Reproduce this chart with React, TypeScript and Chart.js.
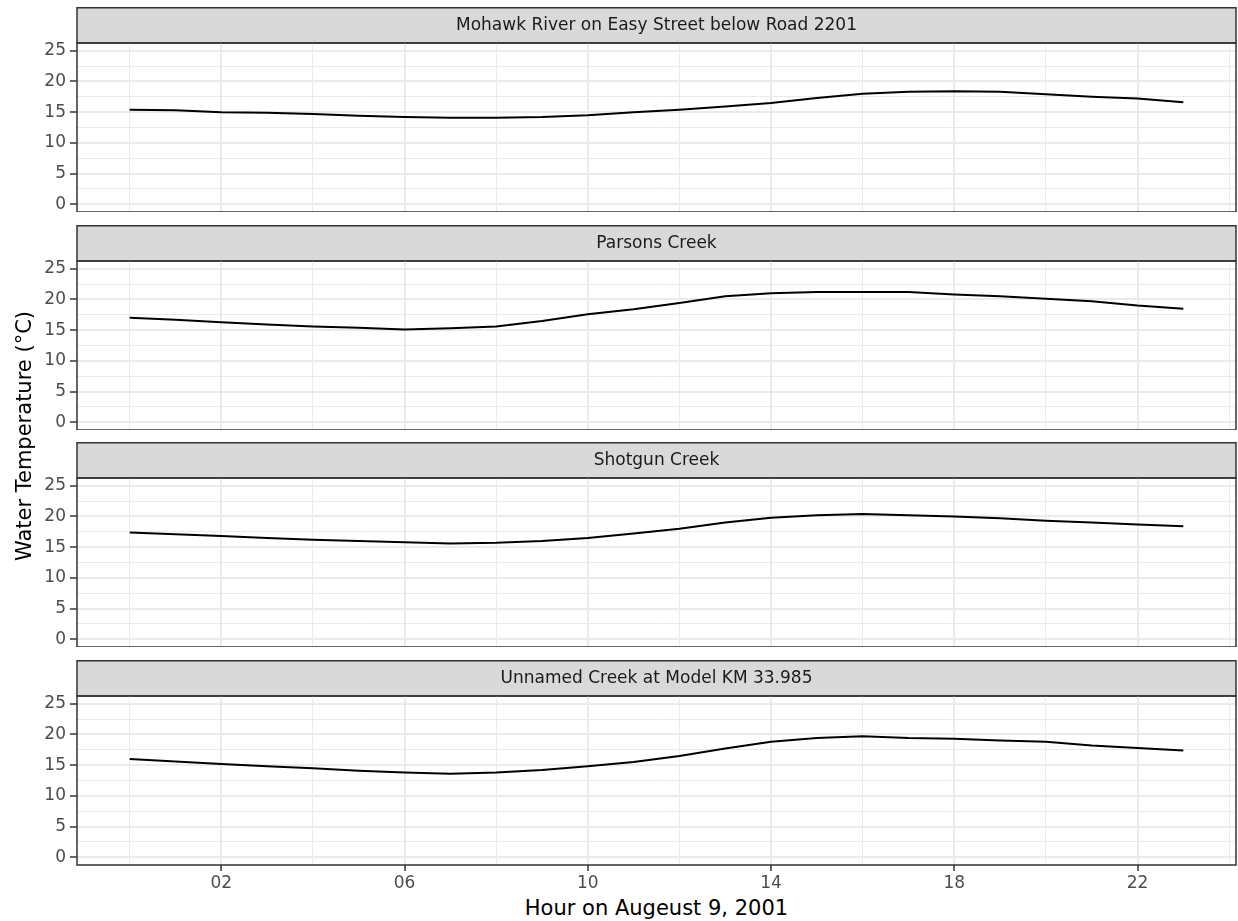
import React, { useEffect, useRef } from 'react';
import { Chart, registerables } from 'chart.js';

Chart.register(...registerables);

// ---------- data ----------
const hours = [0, 1, 2, 3, 4, 5, 6, 7, 8, 9, 10, 11, 12, 13, 14, 15, 16, 17, 18, 19, 20, 21, 22, 23];

const siteNames = [
  'Mohawk River on Easy Street below Road 2201',
  'Parsons Creek',
  'Shotgun Creek',
  'Unnamed Creek at Model KM 33.985',
];

const mohawk = [15.4, 15.3, 15.0, 14.9, 14.7, 14.4, 14.2, 14.1, 14.1, 14.2, 14.5, 15.0, 15.4, 15.9, 16.5, 17.3, 18.0, 18.3, 18.4, 18.3, 17.9, 17.5, 17.2, 16.6];
const parsons = [17.0, 16.7, 16.3, 15.9, 15.6, 15.4, 15.1, 15.3, 15.6, 16.5, 17.6, 18.4, 19.4, 20.5, 21.0, 21.2, 21.2, 21.2, 20.8, 20.5, 20.1, 19.7, 19.0, 18.5];
const shotgun = [17.4, 17.1, 16.8, 16.5, 16.2, 16.0, 15.8, 15.6, 15.7, 16.0, 16.5, 17.2, 18.0, 19.0, 19.8, 20.2, 20.4, 20.2, 20.0, 19.7, 19.3, 19.0, 18.7, 18.4];
const unnamed = [16.0, 15.6, 15.2, 14.8, 14.5, 14.1, 13.8, 13.6, 13.8, 14.2, 14.8, 15.5, 16.5, 17.7, 18.8, 19.4, 19.7, 19.4, 19.3, 19.0, 18.8, 18.2, 17.8, 17.4];

const seriesList = [mohawk, parsons, shotgun, unnamed];

const xTickValues = [0, 2, 4, 6, 8, 10, 12, 14, 16, 18, 20, 22, 24];
const xMajorValues = [2, 6, 10, 14, 18, 22];
const xMajorLabels = ['02', '06', '10', '14', '18', '22'];

const yTickValues = [0, 2.5, 5, 7.5, 10, 12.5, 15, 17.5, 20, 22.5, 25];
const yMajorValues = [0, 5, 10, 15, 20, 25];
const yMajorLabels = ['0', '5', '10', '15', '20', '25'];

const xTitle = 'Hour on Augeust 9, 2001';
const yTitle = 'Water Temperature (°C)';

// ---------- layout / style ----------
const FONT = "'DejaVu Sans', 'Liberation Sans', sans-serif";
const W = 1238;
const STRIP_TOPS = [7, 225, 442, 660];
const STRIP_H = 36;
const PLOT_H = 169;
const X_AXIS_H = 30;
const PANEL_LEFT = 77;
const PANEL_RIGHT = 1236;
const X_MIN = -1.15;
const X_MAX = 24.15;
const Y_MIN = -1.25;
const Y_MAX = 26.25;

const frameColor = '#333333';
const gridColor = '#EBEBEB';

const panelFramePlugin = {
  id: 'panelFrame',
  beforeDraw(chart: any) {
    const { ctx, chartArea: a } = chart;
    ctx.save();
    ctx.fillStyle = '#D9D9D9';
    ctx.fillRect(a.left, 0.75, a.right - a.left, a.top - 0.75);
    ctx.strokeStyle = frameColor;
    ctx.lineWidth = 1.5;
    ctx.strokeRect(a.left, 0.75, a.right - a.left, a.top - 0.75);
    ctx.restore();
  },
  afterDraw(chart: any) {
    const { ctx, chartArea: a } = chart;
    ctx.save();
    ctx.strokeStyle = frameColor;
    ctx.lineWidth = 1.5;
    ctx.strokeRect(a.left, a.top, a.right - a.left, a.bottom - a.top);
    ctx.restore();
  },
};

function Panel({ index }: { index: number }) {
  const ref = useRef<HTMLCanvasElement | null>(null);
  const isLast = index === siteNames.length - 1;
  const h = STRIP_H + PLOT_H + (isLast ? X_AXIS_H : 0);

  useEffect(() => {
    if (!ref.current) return;
    const values = seriesList[index];
    const chart = new Chart(ref.current, {
      type: 'line',
      data: {
        datasets: [
          {
            data: hours.map((hr, i) => ({ x: hr, y: values[i] })),
            borderColor: '#000000',
            borderWidth: 2,
            pointRadius: 0,
            tension: 0,
            fill: false,
          },
        ],
      },
      options: {
        animation: false,
        responsive: false,
        devicePixelRatio: 1,
        layout: { padding: { left: 0, right: W - PANEL_RIGHT, top: 0, bottom: 0 } },
        plugins: {
          legend: { display: false },
          tooltip: { enabled: false },
          title: {
            display: true,
            text: siteNames[index],
            fullSize: false,
            color: '#1A1A1A',
            font: { family: FONT, size: 17, weight: 'normal', lineHeight: 1.2 },
            padding: { top: 8, bottom: 7.6 },
          },
        },
        scales: {
          x: {
            type: 'linear',
            min: X_MIN,
            max: X_MAX,
            border: { display: false },
            afterBuildTicks: (s: any) => {
              s.ticks = xTickValues.map((v) => ({ value: v }));
            },
            afterFit: (s: any) => {
              s.height = isLast ? X_AXIS_H : 0;
              s.paddingLeft = 0;
              s.paddingRight = 0;
            },
            grid: {
              color: gridColor,
              lineWidth: (c: any) => (c.tick && xMajorValues.includes(c.tick.value) ? 2 : 1),
              drawTicks: isLast,
              tickLength: 6,
              tickWidth: 1.5,
              tickColor: (c: any) =>
                c.tick && xMajorValues.includes(c.tick.value) ? frameColor : 'rgba(0,0,0,0)',
            },
            ticks: {
              display: isLast,
              autoSkip: false,
              maxRotation: 0,
              padding: 2,
              color: '#4D4D4D',
              font: { family: FONT, size: 17 },
              callback: (v: any) => {
                const i = xMajorValues.indexOf(Number(v));
                return i >= 0 ? xMajorLabels[i] : '';
              },
            },
          },
          y: {
            type: 'linear',
            min: Y_MIN,
            max: Y_MAX,
            border: { display: false },
            afterBuildTicks: (s: any) => {
              s.ticks = yTickValues.map((v) => ({ value: v }));
            },
            afterFit: (s: any) => {
              s.width = PANEL_LEFT;
              s.paddingTop = 0;
              s.paddingBottom = 0;
            },
            grid: {
              color: gridColor,
              lineWidth: (c: any) => (c.tick && yMajorValues.includes(c.tick.value) ? 2 : 1),
              drawTicks: true,
              tickLength: 7,
              tickWidth: 1.5,
              tickColor: (c: any) =>
                c.tick && yMajorValues.includes(c.tick.value) ? frameColor : 'rgba(0,0,0,0)',
            },
            ticks: {
              autoSkip: false,
              padding: 4,
              color: '#4D4D4D',
              font: { family: FONT, size: 17 },
              callback: (v: any) => {
                const i = yMajorValues.indexOf(Number(v));
                return i >= 0 ? yMajorLabels[i] : '';
              },
            },
          },
        },
      } as any,
      plugins: [panelFramePlugin],
    });
    return () => chart.destroy();
  }, [index, isLast]);

  return (
    <canvas
      ref={ref}
      width={W}
      height={h}
      style={{ position: 'absolute', left: 0, top: STRIP_TOPS[index], width: W, height: h, display: 'block' }}
    />
  );
}

export default function App() {
  return (
    <div style={{ position: 'absolute', left: 0, top: 0, width: W, height: 921, background: '#ffffff', overflow: 'hidden' }}>
      {siteNames.map((_, i) => (
        <Panel key={i} index={i} />
      ))}
      <div
        style={{
          position: 'absolute',
          left: 23.7 - 250,
          top: 435.5 - 12,
          width: 500,
          height: 24,
          lineHeight: '24px',
          fontSize: 21,
          fontFamily: FONT,
          color: '#000',
          textAlign: 'center',
          transform: 'rotate(-90deg)',
          whiteSpace: 'nowrap',
        }}
      >
        {yTitle}
      </div>
      <div
        style={{
          position: 'absolute',
          left: PANEL_LEFT,
          top: 895.7,
          width: PANEL_RIGHT - PANEL_LEFT,
          height: 24,
          lineHeight: '24px',
          fontSize: 21,
          fontFamily: FONT,
          color: '#000',
          textAlign: 'center',
          whiteSpace: 'nowrap',
        }}
      >
        {xTitle}
      </div>
    </div>
  );
}
